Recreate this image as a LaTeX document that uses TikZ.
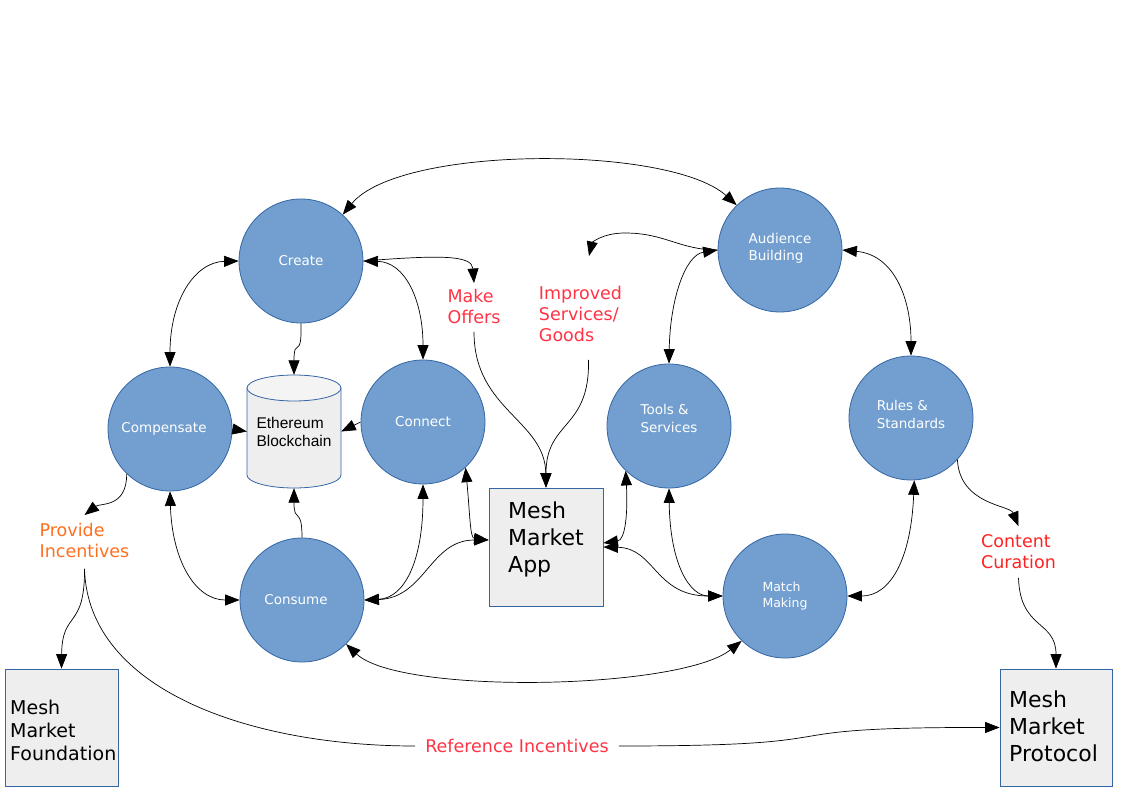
\documentclass[tikz,border=0pt]{standalone}
\usepackage{fontspec}
\setmainfont{DejaVu Sans}
\newfontfamily\arialf{Liberation Sans}
\usetikzlibrary{arrows.meta,calc}
\definecolor{cfill}{HTML}{729FCF}
\definecolor{cline}{HTML}{3465A4}
\definecolor{bfill}{HTML}{EEEEEE}
\definecolor{btop}{HTML}{F4F4F4}
\definecolor{lred}{HTML}{FF3344}
\definecolor{lred2}{HTML}{FF2222}
\definecolor{lorange}{HTML}{FF6F1F}
\begin{document}
\begin{tikzpicture}[x=1pt,y=-1pt,
  >={Triangle[length=14.5pt,width=11pt]},
  circ/.style={circle, draw=cline, fill=cfill, line width=0.8pt, minimum size=124pt,
    inner sep=0pt, text=white, align=left, font=\fontsize{13.5}{17.5}\selectfont},
  boxn/.style={rectangle, draw=cline, fill=bfill, line width=0.8pt, inner sep=0pt},
  boxtxt/.style={align=left, anchor=west, inner sep=0pt, text=black},
  lab/.style={align=left, inner sep=3pt, font=\fontsize{17.5}{21}\selectfont},
  con/.style={draw=black, line width=0.7pt}
]
\useasboundingbox (0,0) rectangle (1123,794);

% cylinder body
\path[draw=cline, fill=bfill, line width=0.8pt] (247,388) -- (247,475)
  arc[start angle=180, end angle=0, x radius=47, y radius=13] -- (341,388) -- cycle;
\path[draw=cline, fill=btop, line width=0.8pt] (294,388) ellipse [x radius=47, y radius=13];
\node[inner sep=0pt, minimum width=94pt, minimum height=113pt, align=left,
  font=\arialf\fontsize{15.5}{18}\selectfont] (eth) at (294,431.5) {Ethereum\\Blockchain};

% circles
\node[circ] (create)  at (301,261) {Create};
\node[circ] (comp)    at (170,429) {Compensate\rule{12pt}{0pt}};
\node[circ] (connect) at (423,422) {Connect};
\node[circ] (consume) at (302,600) {Consume\rule{12pt}{0pt}};
\node[circ] (tools)   at (669,426) {Tools \&\\Services\rule[-15pt]{0pt}{0pt}};
\node[circ] (aud)     at (780,250) {Audience\\Building\rule[-6pt]{0pt}{0pt}};
\node[circ] (rules)   at (911,418) {Rules \&\\Standards\rule[-7pt]{0pt}{0pt}};
\node[circ, font=\fontsize{12.5}{16}\selectfont] (match) at (785,596) {Match\\Making};

% boxes
\node[boxn, minimum width=114pt, minimum height=118pt] (app)   at (546,547) {};
\node[boxn, minimum width=113pt, minimum height=117pt] (found) at (61.5,727.5) {};
\node[boxn, minimum width=112pt, minimum height=117pt] (proto) at (1056,727.5) {};
\node[boxtxt, font=\fontsize{22}{27}\selectfont] (applbl) at (508,539) {Mesh\\Market\\App};
\node[boxtxt, font=\fontsize{19}{23}\selectfont] (foundlbl) at (10,730) {Mesh\\Market\\Foundation};
\node[boxtxt, font=\fontsize{22}{27}\selectfont] (protolbl) at (1009,726) {Mesh\\Market\\Protocol};

% labels
\node[lab, text=lred] (offers) at (474,306.5) {Make\\Offers};
\node[lab, text=lred] (improved) at (580.5,314) {Improved\\Services/\\Goods};
\node[lab, text=lorange] (provide) at (84.5,540.5) {Provide\\Incentives};
\node[lab, text=lred2] (content) at (1018.5,551.5) {Content\\Curation};
\node[lab, text=lred, inner xsep=10pt] (ref) at (517,746) {Reference Incentives};

\coordinate (imptop) at (589,256);
\coordinate (provbot) at ([yshift=-8pt]provide.south);

% connectors
\draw[con,<->] (create.48) .. controls (400,145) and (670,145) .. (aud.134);
\draw[con,<->] (create.180) .. controls (195,262) and (170,300) .. (comp.90);
\draw[con,<->] (create.0) .. controls (405,262) and (423,300) .. (connect.90);
\draw[con,->] (create.270) .. controls (302,362) and (294,335) .. (eth.north);
\draw[con,->] (create.0) .. controls (440,255) and (472,255) .. ([yshift=3pt]offers.north);
\draw[con,->] ([yshift=-5pt]offers.south) .. controls (474,410) and (545,420) .. (app.north);
\draw[con,->] ([xshift=8pt,yshift=-15pt]improved.south) .. controls (590,430) and (546,420) .. (app.north);
\draw[con,->] (aud.180) .. controls (680,250) and (665,233) .. (625,233) .. controls (602,233) and (592,243) .. (imptop);
\draw[con,<->] (tools.90) .. controls (670,300) and (685,255) .. (aud.180);
\draw[con,<->] (aud.0) .. controls (895,255) and (911,300) .. (rules.90);
\draw[con,->] (comp.0) -- (eth.west);
\draw[con,->] (connect.180) -- (eth.east);
\draw[con,->] (comp.226) .. controls (127,508) and (100,503) .. ([yshift=5pt]provide.north);
\draw[con,<->] (comp.270) .. controls (172,560) and (195,600) .. (consume.180);
\draw[con,->] (consume.90) .. controls (302,505) and (294,525) .. (eth.south);
\draw[con,<->] (connect.270) .. controls (423,560) and (405,598) .. (consume.0);
\draw[con,<->] (consume.0) .. controls (425,598) and (430,540) .. ([yshift=7pt]app.west);
\draw[con,<->] (connect.313) .. controls (470,515) and (470,538) .. ([yshift=7pt]app.west);
\draw[con,<->] (tools.226) .. controls (628,515) and (625,540) .. ([yshift=4pt]app.east);
\draw[con,<->] (app.east) .. controls (655,548) and (655,596) .. (match.180);
\draw[con,<->] (tools.270) .. controls (670,565) and (690,596) .. (match.180);
\draw[con,<->] (rules.273) .. controls (911,560) and (890,596) .. (match.0);
\draw[con,->] (rules.318) .. controls (960,505) and (1010,505) .. ([yshift=5pt]content.north);
\draw[con,->] ([yshift=-6pt]content.south) .. controls (1020,630) and (1056,620) .. (proto.north);
\draw[con,<->] (consume.315) .. controls (400,695) and (680,690) .. (match.226);
\draw[con,->] (provbot) .. controls (85,630) and (62,610) .. (found.north);
\draw[con] (provbot) .. controls (88,690) and (250,746) .. (ref.west);
\draw[con,->] (ref.east) .. controls (880,746) and (740,727) .. (proto.west);
\end{tikzpicture}
\end{document}
